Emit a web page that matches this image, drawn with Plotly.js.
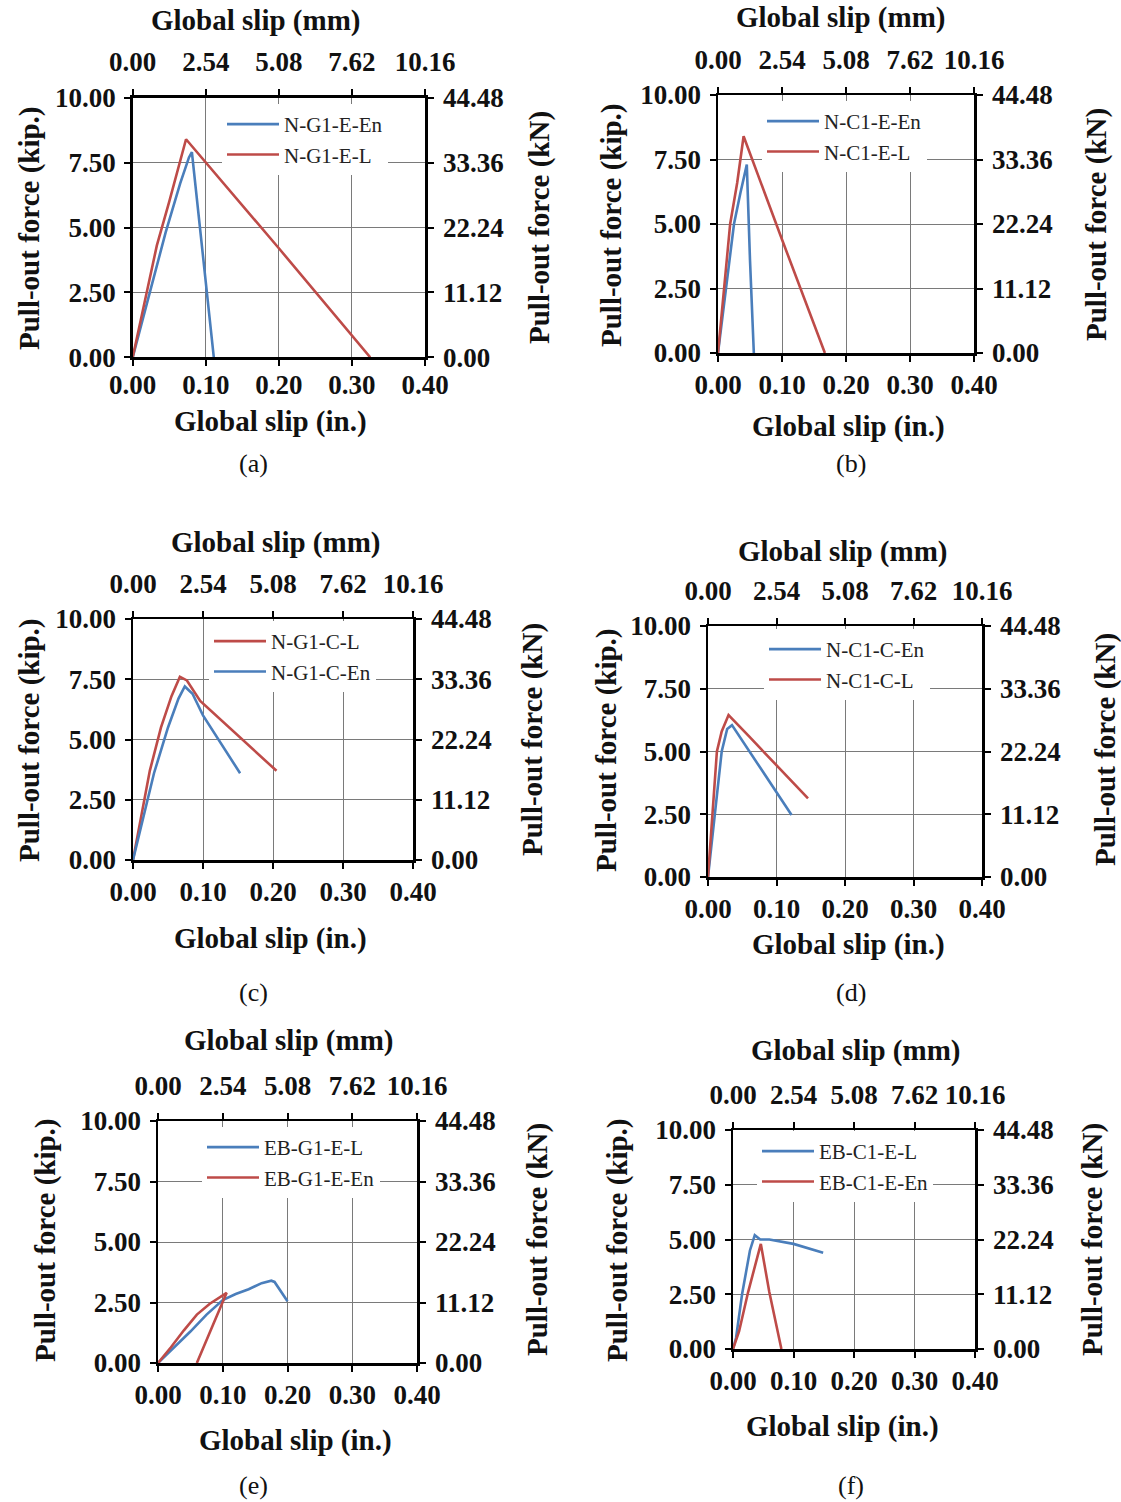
<!DOCTYPE html>
<html><head><meta charset="utf-8">
<script src="https://cdn.plot.ly/plotly-3.0.1.min.js"></script>
<style>html,body{margin:0;padding:0;background:#fff}</style>
</head><body><div id="chart" style="width:1121px;height:1502px"></div>
<script>
// ---- data (slip in inches, force in kip) ----
const xTicks = [0, 0.1, 0.2, 0.3, 0.4];
const yTicks = [0, 2.5, 5, 7.5, 10];
const mmTicks = [0, 2.54, 5.08, 7.62, 10.16];
const kNTicks = [0, 11.12, 22.24, 33.36, 44.48];

const aEnSlip = [0, 0.02, 0.045, 0.065, 0.077, 0.081, 0.095, 0.111];
const aEnForce = [0, 2.1, 4.8, 6.7, 7.7, 7.9, 4.2, 0];
const aLSlip = [0, 0.015, 0.033, 0.05, 0.065, 0.073, 0.2, 0.325];
const aLForce = [0, 2.0, 4.3, 6.0, 7.6, 8.4, 4.2, 0];

const bEnSlip = [0, 0.012, 0.025, 0.035, 0.045, 0.05, 0.056];
const bEnForce = [0, 2.5, 5.0, 6.2, 7.3, 3.6, 0];
const bLSlip = [0, 0.01, 0.019, 0.03, 0.04, 0.1, 0.167];
const bLForce = [0, 2.5, 5.0, 6.6, 8.4, 4.4, 0];

const cLSlip = [0, 0.012, 0.024, 0.04, 0.055, 0.067, 0.077, 0.096, 0.15, 0.205];
const cLForce = [0, 1.8, 3.7, 5.5, 6.8, 7.6, 7.45, 6.6, 5.15, 3.7];
const cEnSlip = [0, 0.015, 0.03, 0.05, 0.065, 0.074, 0.085, 0.1, 0.153];
const cEnForce = [0, 1.8, 3.6, 5.5, 6.7, 7.2, 6.9, 6.0, 3.6];

const dEnSlip = [0, 0.01, 0.02, 0.028, 0.035, 0.08, 0.122];
const dEnForce = [0, 2.5, 5.0, 5.9, 6.05, 4.2, 2.47];
const dLSlip = [0, 0.006, 0.013, 0.02, 0.03, 0.06, 0.1, 0.146];
const dLForce = [0, 2.5, 5.0, 5.8, 6.45, 5.6, 4.45, 3.13];

const eLSlip = [0, 0.025, 0.05, 0.075, 0.1, 0.12, 0.14, 0.16, 0.175, 0.18, 0.2];
const eLForce = [0, 0.65, 1.3, 2.0, 2.6, 2.85, 3.05, 3.3, 3.4, 3.35, 2.55];
const eEnSlip = [0, 0.02, 0.04, 0.06, 0.08, 0.1, 0.106, 0.085, 0.06];
const eEnForce = [0, 0.65, 1.35, 2.0, 2.45, 2.8, 2.9, 1.58, 0];

const fLSlip = [0, 0.005, 0.015, 0.028, 0.036, 0.045, 0.06, 0.1, 0.149];
const fLForce = [0, 0.5, 2.5, 4.5, 5.2, 5.0, 5.0, 4.8, 4.4];
const fEnSlip = [0, 0.01, 0.025, 0.04, 0.046, 0.06, 0.08];
const fEnForce = [0, 0.8, 2.6, 4.2, 4.8, 2.6, 0];

const BLUE = '#4a7ebb', RED = '#be4b48';
const W = 1121, H = 1502;
const px = v => v / W, py = v => 1 - v / H;

// panels: plot box in pixels, legend anchor, series, label, title positions
const panels = [
  {box:[132.7,425,97.7,357.3], leg:[222,104], label:'(a)', lab:[253,463], bso:-4,
   tt:[255,20], bt:[270,421], lt:[30,228], rt:[540,228],
   series:[['N-G1-E-En',aEnSlip,aEnForce,BLUE],['N-G1-E-L',aLSlip,aLForce,RED]]},
  {box:[718,974,95,353], leg:[762,101], label:'(b)', lab:[851,463], bso:0,
   tt:[840,17], bt:[848,427], lt:[612,225], rt:[1097,225],
   series:[['N-C1-E-En',bEnSlip,bEnForce,BLUE],['N-C1-E-L',bLSlip,bLForce,RED]]},
  {box:[133,413,619,860], leg:[209,621], label:'(c)', lab:[253,993], bso:0,
   tt:[275,543], bt:[270,938], lt:[30,740], rt:[533,740],
   series:[['N-G1-C-L',cLSlip,cLForce,RED],['N-G1-C-En',cEnSlip,cEnForce,BLUE]]},
  {box:[708,982,626,877], leg:[764,629], label:'(d)', lab:[851,993], bso:0,
   tt:[842,551], bt:[848,944], lt:[607,750], rt:[1106,750],
   series:[['N-C1-C-En',dEnSlip,dEnForce,BLUE],['N-C1-C-L',dLSlip,dLForce,RED]]},
  {box:[158,417,1121,1363], leg:[202,1127], label:'(e)', lab:[253,1485], bso:0,
   tt:[288,1040], bt:[295,1440], lt:[45,1240], rt:[537,1240],
   series:[['EB-G1-E-L',eLSlip,eLForce,BLUE],['EB-G1-E-En',eEnSlip,eEnForce,RED]]},
  {box:[733,975,1130,1349], leg:[757,1131], label:'(f)', lab:[851,1485], bso:0,
   tt:[855,1050], bt:[842,1426], lt:[617,1240], rt:[1092,1240],
   series:[['EB-C1-E-L',fLSlip,fLForce,BLUE],['EB-C1-E-En',fEnSlip,fEnForce,RED]]}
];

const FONT = 'Liberation Serif, Times New Roman, serif';
const tickFont = {family: FONT, size: 27, color: '#111', weight: 'bold'};
const titleFont = {family: FONT, size: 29, color: '#111', weight: 'bold'};

const data = [];
const layout = {
  width: W, height: H, margin: {l:0, r:0, t:0, b:0},
  paper_bgcolor: '#fff', plot_bgcolor: '#fff',
  showlegend: true, annotations: []
};

panels.forEach((p, k) => {
  const nx = 2*k + 1, nt = 2*k + 2;
  const id = n => (n === 1 ? '' : String(n));
  const xB = 'x' + id(nx), xT = 'x' + id(nt), yL = 'y' + id(nx), yR = 'y' + id(nt);
  const legName = 'legend' + (k === 0 ? '' : String(k + 1));
  const dx = [px(p.box[0]), px(p.box[1])];
  const dy = [py(p.box[3]), py(p.box[2])];
  const common = {showline: true, linecolor: '#000', linewidth: 2.5, ticks: 'outside',
    ticklen: 6, tickwidth: 2, tickcolor: '#000', tickfont: tickFont, zeroline: false,
    tickmode: 'array'};
  layout['xaxis' + id(nx)] = Object.assign({}, common, {domain: dx, anchor: yL, range: [0, 0.4],
    tickvals: xTicks, ticktext: xTicks.map(v => v.toFixed(2)), showgrid: true,
    gridcolor: '#7a7a7a', gridwidth: 1, side: 'bottom', ticklabelstandoff: p.bso});
  layout['xaxis' + id(nt)] = Object.assign({}, common, {overlaying: xB, anchor: yL, side: 'top',
    range: [0, 10.16], tickvals: mmTicks, ticktext: mmTicks.map(v => v.toFixed(2)), showgrid: false,
    ticklabelstandoff: 7});
  layout['yaxis' + id(nx)] = Object.assign({}, common, {domain: dy, anchor: xB, range: [0, 10],
    tickvals: yTicks, ticktext: yTicks.map(v => v.toFixed(2)), showgrid: true,
    gridcolor: '#7a7a7a', gridwidth: 1, side: 'left', ticklabelstandoff: 3});
  layout['yaxis' + id(nt)] = Object.assign({}, common, {overlaying: yL, anchor: xB, side: 'right',
    range: [0, 44.48], tickvals: kNTicks, ticktext: kNTicks.map(v => v.toFixed(2)), showgrid: false,
    ticklabelstandoff: 4});

  layout[legName] = {x: px(p.leg[0]), y: py(p.leg[1]), xanchor: 'left', yanchor: 'top',
    bgcolor: 'rgba(255,255,255,1)', borderwidth: 0, itemwidth: 52,
    font: {family: FONT, size: 21, color: '#222'}, tracegroupgap: 0};

  // empty helper trace so secondary axes are laid out
  data.push({type: 'scatter', mode: 'lines', x: [], y: [], xaxis: xT, yaxis: yR,
    showlegend: false, hoverinfo: 'skip'});
  p.series.forEach(s => {
    data.push({type: 'scatter', mode: 'lines', name: s[0], x: s[1], y: s[2],
      xaxis: xB, yaxis: yL, legend: legName,
      line: {color: s[3], width: 2.6}});
  });

  const ann = (txt, pos, rot, font) => layout.annotations.push({text: txt, x: px(pos[0]),
    y: py(pos[1]), xref: 'paper', yref: 'paper', xanchor: 'center', yanchor: 'middle',
    showarrow: false, textangle: rot, font: font});
  ann('Global slip (mm)', p.tt, 0, titleFont);
  ann('Global slip (in.)', p.bt, 0, titleFont);
  ann('Pull-out force (kip.)', p.lt, -90, titleFont);
  ann('Pull-out force (kN)', p.rt, -90, titleFont);
  ann(p.label, p.lab, 0, {family: FONT, size: 26, color: '#111'});
});

Plotly.newPlot('chart', data, layout, {staticPlot: true});
</script></body></html>
